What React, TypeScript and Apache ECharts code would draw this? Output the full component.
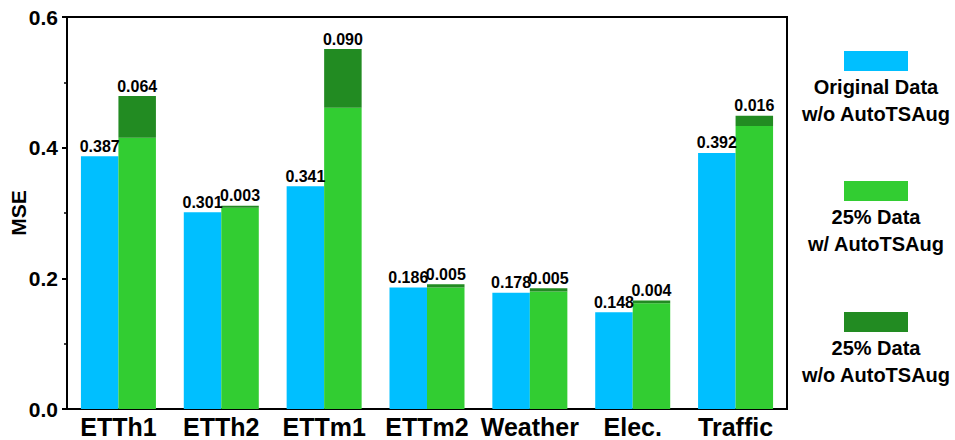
import React, { useEffect, useRef } from "react";
import * as echarts from "echarts";

const categories = ["ETTh1", "ETTh2", "ETTm1", "ETTm2", "Weather", "Elec.", "Traffic"];
const originalNoAug = [0.387, 0.301, 0.341, 0.186, 0.178, 0.148, 0.392];
const quarterWithAug = [0.415, 0.308, 0.461, 0.186, 0.18, 0.162, 0.433];
const quarterNoAugGap = [0.064, 0.003, 0.09, 0.005, 0.005, 0.004, 0.016];
const yTicks = [0, 0.2, 0.4, 0.6];

const legendItems = [
  { lines: ["Original Data", "w/o AutoTSAug"], color: "#00BFFF" },
  { lines: ["25% Data", "w/ AutoTSAug"], color: "#32CD32" },
  { lines: ["25% Data", "w/o AutoTSAug"], color: "#228B22" },
];

const FONT = "'Liberation Sans', Arial, sans-serif";

export default function App() {
  const ref = useRef<HTMLDivElement>(null);
  useEffect(() => {
    if (!ref.current) return;
    const chart = echarts.init(ref.current, undefined, { renderer: "svg" });
    const labelStyle = {
      show: true,
      position: "top" as const,
      distance: 2,
      fontFamily: FONT,
      fontWeight: "bold" as const,
      fontSize: 16,
      color: "#000",
      formatter: (p: any) => Number(p.value).toFixed(3),
    };
    const graphic: any[] = [];
    const rectY = [51, 181, 312];
    legendItems.forEach((it, i) => {
      graphic.push({
        type: "rect",
        shape: { x: 844, y: rectY[i], width: 64, height: 20 },
        style: { fill: it.color },
      });
      it.lines.forEach((ln, j) => {
        graphic.push({
          type: "text",
          style: {
            x: 876,
            y: rectY[i] + 36 + j * 27,
            text: ln,
            align: "center",
            verticalAlign: "middle",
            fontFamily: FONT,
            fontWeight: "bold",
            fontSize: 20,
            fill: "#000",
          },
        });
      });
    });
    chart.setOption({
      animation: false,
      grid: {
        left: 67,
        right: 168,
        top: 17,
        bottom: 31,
        outerBoundsMode: "none",
        containLabel: false,
        show: true,
        borderColor: "#000",
        borderWidth: 2,
        backgroundColor: "transparent",
      },
      xAxis: {
        type: "category",
        data: categories,
        axisLine: { lineStyle: { color: "#000", width: 2 } },
        axisTick: { alignWithLabel: true, length: 5, lineStyle: { color: "#000", width: 2 } },
        axisLabel: {
          interval: 0,
          margin: 5,
          fontFamily: FONT,
          fontWeight: "bold",
          fontSize: 25,
          color: "#000",
        },
      },
      yAxis: {
        type: "value",
        min: yTicks[0],
        max: yTicks[yTicks.length - 1],
        interval: 0.2,
        name: "MSE",
        nameLocation: "middle",
        nameGap: 38,
        nameMoveOverlap: false,
        nameTextStyle: { fontFamily: FONT, fontWeight: "bold", fontSize: 21, color: "#000" },
        axisLine: { show: true, lineStyle: { color: "#000", width: 2 } },
        axisTick: { show: true, length: 5, lineStyle: { color: "#000", width: 2 } },
        minorTick: { show: true, splitNumber: 2, length: 3, lineStyle: { color: "#000", width: 1.5 } },
        splitLine: { show: false },
        axisLabel: {
          margin: 9,
          fontFamily: FONT,
          fontWeight: "bold",
          fontSize: 21,
          color: "#000",
          formatter: (v: number) => v.toFixed(1),
        },
      },
      graphic,
      series: [
        {
          name: "Original Data w/o AutoTSAug",
          type: "bar",
          data: originalNoAug,
          barWidth: 37.5,
          barGap: "0%",
          itemStyle: { color: "#00BFFF" },
          label: labelStyle,
        },
        {
          name: "25% Data w/ AutoTSAug",
          type: "bar",
          stack: "q",
          data: quarterWithAug,
          barWidth: 37.5,
          barGap: "0%",
          itemStyle: { color: "#32CD32" },
        },
        {
          name: "25% Data w/o AutoTSAug",
          type: "bar",
          stack: "q",
          data: quarterNoAugGap,
          barWidth: 37.5,
          barGap: "0%",
          itemStyle: { color: "#228B22" },
          label: labelStyle,
        },
      ],
    });
    return () => chart.dispose();
  }, []);
  return (
    <div
      ref={ref}
      style={{ position: "fixed", left: 0, top: 0, width: 955, height: 440, background: "#fff" }}
    />
  );
}
